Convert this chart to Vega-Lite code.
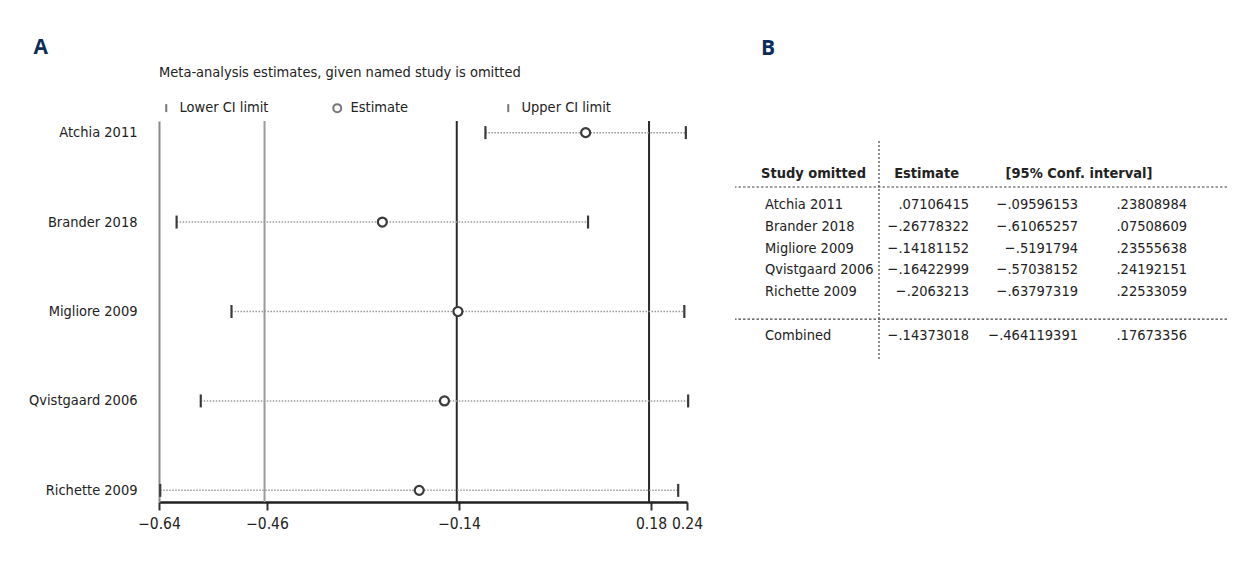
{
  "$schema": "https://vega.github.io/schema/vega-lite/v6.json",
  "background": "white",
  "padding": {"left": 28, "top": 37, "right": 0, "bottom": 0},
  "spacing": 31,
  "config": {
    "font": "DejaVu Sans Condensed, Roboto, sans-serif",
    "view": {"stroke": null},
    "axis": {"grid": false, "labelFontSize": 14.5, "labelColor": "#222", "labelFont": "DejaVu Sans Condensed, Roboto, sans-serif"},
    "text": {"font": "DejaVu Sans Condensed, Roboto, sans-serif", "fontSize": 14.5, "color": "#222"},
    "title": {"font": "Open Sans", "fontSize": 21, "fontWeight": "bold", "color": "#0c2d5c", "anchor": "start"}
  },
  "datasets": {
    "forest": [
      {"study": "Atchia 2011", "Estimate": 0.07106415, "Lower CI limit": -0.09596153, "Upper CI limit": 0.23808984},
      {"study": "Brander 2018", "Estimate": -0.26778322, "Lower CI limit": -0.61065257, "Upper CI limit": 0.07508609},
      {"study": "Migliore 2009", "Estimate": -0.14181152, "Lower CI limit": -0.5191794, "Upper CI limit": 0.23555638},
      {"study": "Qvistgaard 2006", "Estimate": -0.16422999, "Lower CI limit": -0.57038152, "Upper CI limit": 0.24192151},
      {"study": "Richette 2009", "Estimate": -0.2063213, "Lower CI limit": -0.63797319, "Upper CI limit": 0.22533059}
    ],
    "combined": [
      {"kind": "lower", "value": -0.464119391},
      {"kind": "estimate", "value": -0.14373018},
      {"kind": "upper", "value": 0.17673356}
    ],
    "table": [
      {"row": 0, "col": "study", "text": "Study omitted"},
      {"row": 0, "col": "estimate", "text": "Estimate"},
      {"row": 0, "col": "lower", "text": "[95% Conf. interval]"},
      {"row": 1, "col": "study", "text": "Atchia 2011"},
      {"row": 1, "col": "estimate", "text": ".07106415"},
      {"row": 1, "col": "lower", "text": "−.09596153"},
      {"row": 1, "col": "upper", "text": ".23808984"},
      {"row": 2, "col": "study", "text": "Brander 2018"},
      {"row": 2, "col": "estimate", "text": "−.26778322"},
      {"row": 2, "col": "lower", "text": "−.61065257"},
      {"row": 2, "col": "upper", "text": ".07508609"},
      {"row": 3, "col": "study", "text": "Migliore 2009"},
      {"row": 3, "col": "estimate", "text": "−.14181152"},
      {"row": 3, "col": "lower", "text": "−.5191794"},
      {"row": 3, "col": "upper", "text": ".23555638"},
      {"row": 4, "col": "study", "text": "Qvistgaard 2006"},
      {"row": 4, "col": "estimate", "text": "−.16422999"},
      {"row": 4, "col": "lower", "text": "−.57038152"},
      {"row": 4, "col": "upper", "text": ".24192151"},
      {"row": 5, "col": "study", "text": "Richette 2009"},
      {"row": 5, "col": "estimate", "text": "−.2063213"},
      {"row": 5, "col": "lower", "text": "−.63797319"},
      {"row": 5, "col": "upper", "text": ".22533059"},
      {"row": 7, "col": "study", "text": "Combined"},
      {"row": 7, "col": "estimate", "text": "−.14373018"},
      {"row": 7, "col": "lower", "text": "−.464119391"},
      {"row": 7, "col": "upper", "text": ".17673356"}
    ]
  },
  "hconcat": [
    {
      "title": {"text": "A", "frame": "bounds", "dx": 5, "offset": 62},
      "width": 528,
      "height": 381,
      "data": {"name": "forest"},
      "layer": [
        {
          "data": {"name": "combined"},
          "mark": {"type": "rule", "strokeWidth": 2},
          "encoding": {
            "x": {"field": "value", "type": "quantitative", "scale": {"domain": [-0.64, 0.24], "nice": false, "zero": false},
                  "axis": {"values": [-0.64, -0.46, -0.14, 0.18, 0.24], "format": ".2f", "title": null, "domainColor": "#222", "domainWidth": 2.5, "tickColor": "#333", "tickWidth": 2, "tickSize": 8, "labelPadding": 6, "labelFontSize": 15.5, "labelFlush": false}},
            "color": {"field": "kind", "type": "nominal", "scale": {"domain": ["lower", "estimate", "upper"], "range": ["#9a9a9a", "#2a2a2a", "#2a2a2a"]}, "legend": null}
          }
        },
        {
          "mark": {"type": "rule", "color": "#9a9a9a", "strokeWidth": 1.5, "strokeDash": [1.5, 1.5]},
          "encoding": {
            "y": {"field": "study", "type": "nominal", "sort": ["Atchia 2011", "Brander 2018", "Migliore 2009", "Qvistgaard 2006", "Richette 2009"], "scale": {"type": "point", "padding": 0.13},
                  "axis": {"title": null, "ticks": false, "labelPadding": 22, "domainColor": "#8a8a8a", "domainWidth": 2}},
            "x": {"field": "Lower CI limit", "type": "quantitative"},
            "x2": {"field": "Upper CI limit"}
          }
        },
        {
          "transform": [{"fold": ["Lower CI limit", "Upper CI limit"], "as": ["type", "value"]}],
          "mark": {"type": "point", "size": 169, "strokeWidth": 2.2, "color": "#3a3a3a", "filled": false, "opacity": 1},
          "encoding": {
            "y": {"field": "study", "type": "nominal", "sort": ["Atchia 2011", "Brander 2018", "Migliore 2009", "Qvistgaard 2006", "Richette 2009"]},
            "x": {"field": "value", "type": "quantitative"},
            "shape": {"field": "type", "type": "nominal",
                      "scale": {"domain": ["Lower CI limit", "Estimate", "Upper CI limit"], "range": ["M0,-1L0,1", "circle", "M0,-1L0,1"]},
                      "legend": {"title": "Meta-analysis estimates, given named study is omitted", "orient": "none", "legendX": 0, "legendY": -55, "direction": "horizontal", "columns": 3, "gridAlign": "all", "columnPadding": 60, "labelOffset": 6, "symbolSize": 64, "symbolStrokeWidth": 2, "symbolStrokeColor": "#777", "titlePadding": 20, "padding": 0, "titleFontSize": 14.5, "titleFontWeight": "normal", "titleColor": "#222", "titleFont": "DejaVu Sans Condensed, Roboto, sans-serif", "labelFont": "DejaVu Sans Condensed, Roboto, sans-serif", "labelFontSize": 14.5, "labelColor": "#222", "titleLimit": 1000, "labelLimit": 300}}
          }
        },
        {
          "transform": [{"fold": ["Estimate"], "as": ["type", "value"]}],
          "mark": {"type": "point", "size": 81, "strokeWidth": 2.2, "stroke": "#3a3a3a", "fill": "white", "filled": true, "opacity": 1},
          "encoding": {
            "y": {"field": "study", "type": "nominal", "sort": ["Atchia 2011", "Brander 2018", "Migliore 2009", "Qvistgaard 2006", "Richette 2009"]},
            "x": {"field": "value", "type": "quantitative"},
            "shape": {"field": "type", "type": "nominal"}
          }
        }
      ]
    },
    {
      "title": {"text": "B", "frame": "group", "dx": 26, "offset": 62},
      "width": 492,
      "height": 238,
      "data": {"name": "table"},
      "layer": [
        {
          "data": {"values": [{}]},
          "mark": {"type": "rule", "xOffset": 19, "strokeDash": [2, 2], "color": "#444", "strokeWidth": 1.2},
          "encoding": {
            "x": {"datum": "study", "type": "nominal", "scale": {"type": "point", "padding": 0, "domain": ["study", "estimate", "lower", "upper"], "range": [125, 452]}, "axis": null},
            "y": {"datum": -1.8, "type": "quantitative", "scale": {"domain": [-2.72, 8.2], "reverse": true, "nice": false, "zero": false}, "axis": null},
            "y2": {"datum": 8.2}
          }
        },
        {
          "data": {"values": [{}]},
          "mark": {"type": "rule", "yOffset": -4.2, "strokeDash": [2.5, 2], "color": "#444", "strokeWidth": 1.2},
          "encoding": {"y": {"datum": 0.5, "type": "quantitative"}}
        },
        {
          "data": {"values": [{}]},
          "mark": {"type": "rule", "yOffset": 8, "strokeDash": [2.5, 2], "color": "#444", "strokeWidth": 1.2},
          "encoding": {"y": {"datum": 6, "type": "quantitative"}}
        },
        {
          "transform": [{"filter": "datum.row > 0 && datum.col == 'study'"}],
          "mark": {"type": "text", "align": "left", "dx": -95, "dy": 3},
          "encoding": {"x": {"field": "col", "type": "nominal"}, "y": {"field": "row", "type": "quantitative"}, "text": {"field": "text"}}
        },
        {
          "transform": [{"filter": "datum.row > 0 && datum.col != 'study'"}],
          "mark": {"type": "text", "align": "right", "dy": 3},
          "encoding": {"x": {"field": "col", "type": "nominal"}, "y": {"field": "row", "type": "quantitative"}, "text": {"field": "text"}}
        },
        {
          "transform": [{"filter": "datum.row == 0 && datum.col == 'study'"}],
          "mark": {"type": "text", "align": "left", "dx": -99, "dy": -6, "fontWeight": "bold"},
          "encoding": {"x": {"field": "col", "type": "nominal"}, "y": {"field": "row", "type": "quantitative"}, "text": {"field": "text"}}
        },
        {
          "transform": [{"filter": "datum.row == 0 && datum.col == 'estimate'"}],
          "mark": {"type": "text", "align": "right", "dx": -10, "dy": -6, "fontWeight": "bold"},
          "encoding": {"x": {"field": "col", "type": "nominal"}, "y": {"field": "row", "type": "quantitative"}, "text": {"field": "text"}}
        },
        {
          "transform": [{"filter": "datum.row == 0 && datum.col == 'lower'"}],
          "mark": {"type": "text", "align": "center", "dx": 1, "dy": -6, "fontWeight": "bold"},
          "encoding": {"x": {"field": "col", "type": "nominal"}, "y": {"field": "row", "type": "quantitative"}, "text": {"field": "text"}}
        }
      ]
    }
  ]
}
